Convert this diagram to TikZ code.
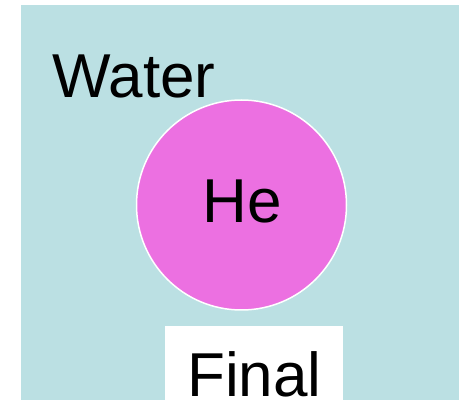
\documentclass[tikz,border=0pt]{standalone}
\usepackage{fontspec}
\setmainfont{Liberation Sans}
\definecolor{watercol}{RGB}{187,224,227}
\definecolor{hecol}{RGB}{236,112,225}

\begin{document}
\begin{tikzpicture}[x=1pt,y=-1pt,
    every node/.style={font=\fontsize{62}{72}\selectfont, anchor=base, inner sep=0pt}]
        \useasboundingbox (0,0) rectangle (459,406);
        \fill[watercol] (21,5) rectangle (459,400);
        \draw[white, line width=1.5pt, fill=hecol] (241.5,205) circle[radius=105pt];
        \node (water) at (134,98) {Water};
        \node (he) at (242,223) {He};
        \fill[white] (165,326) rectangle (343,406);
        \node (final) at (254.5,397) {Final};
    \end{tikzpicture}
\end{document}
